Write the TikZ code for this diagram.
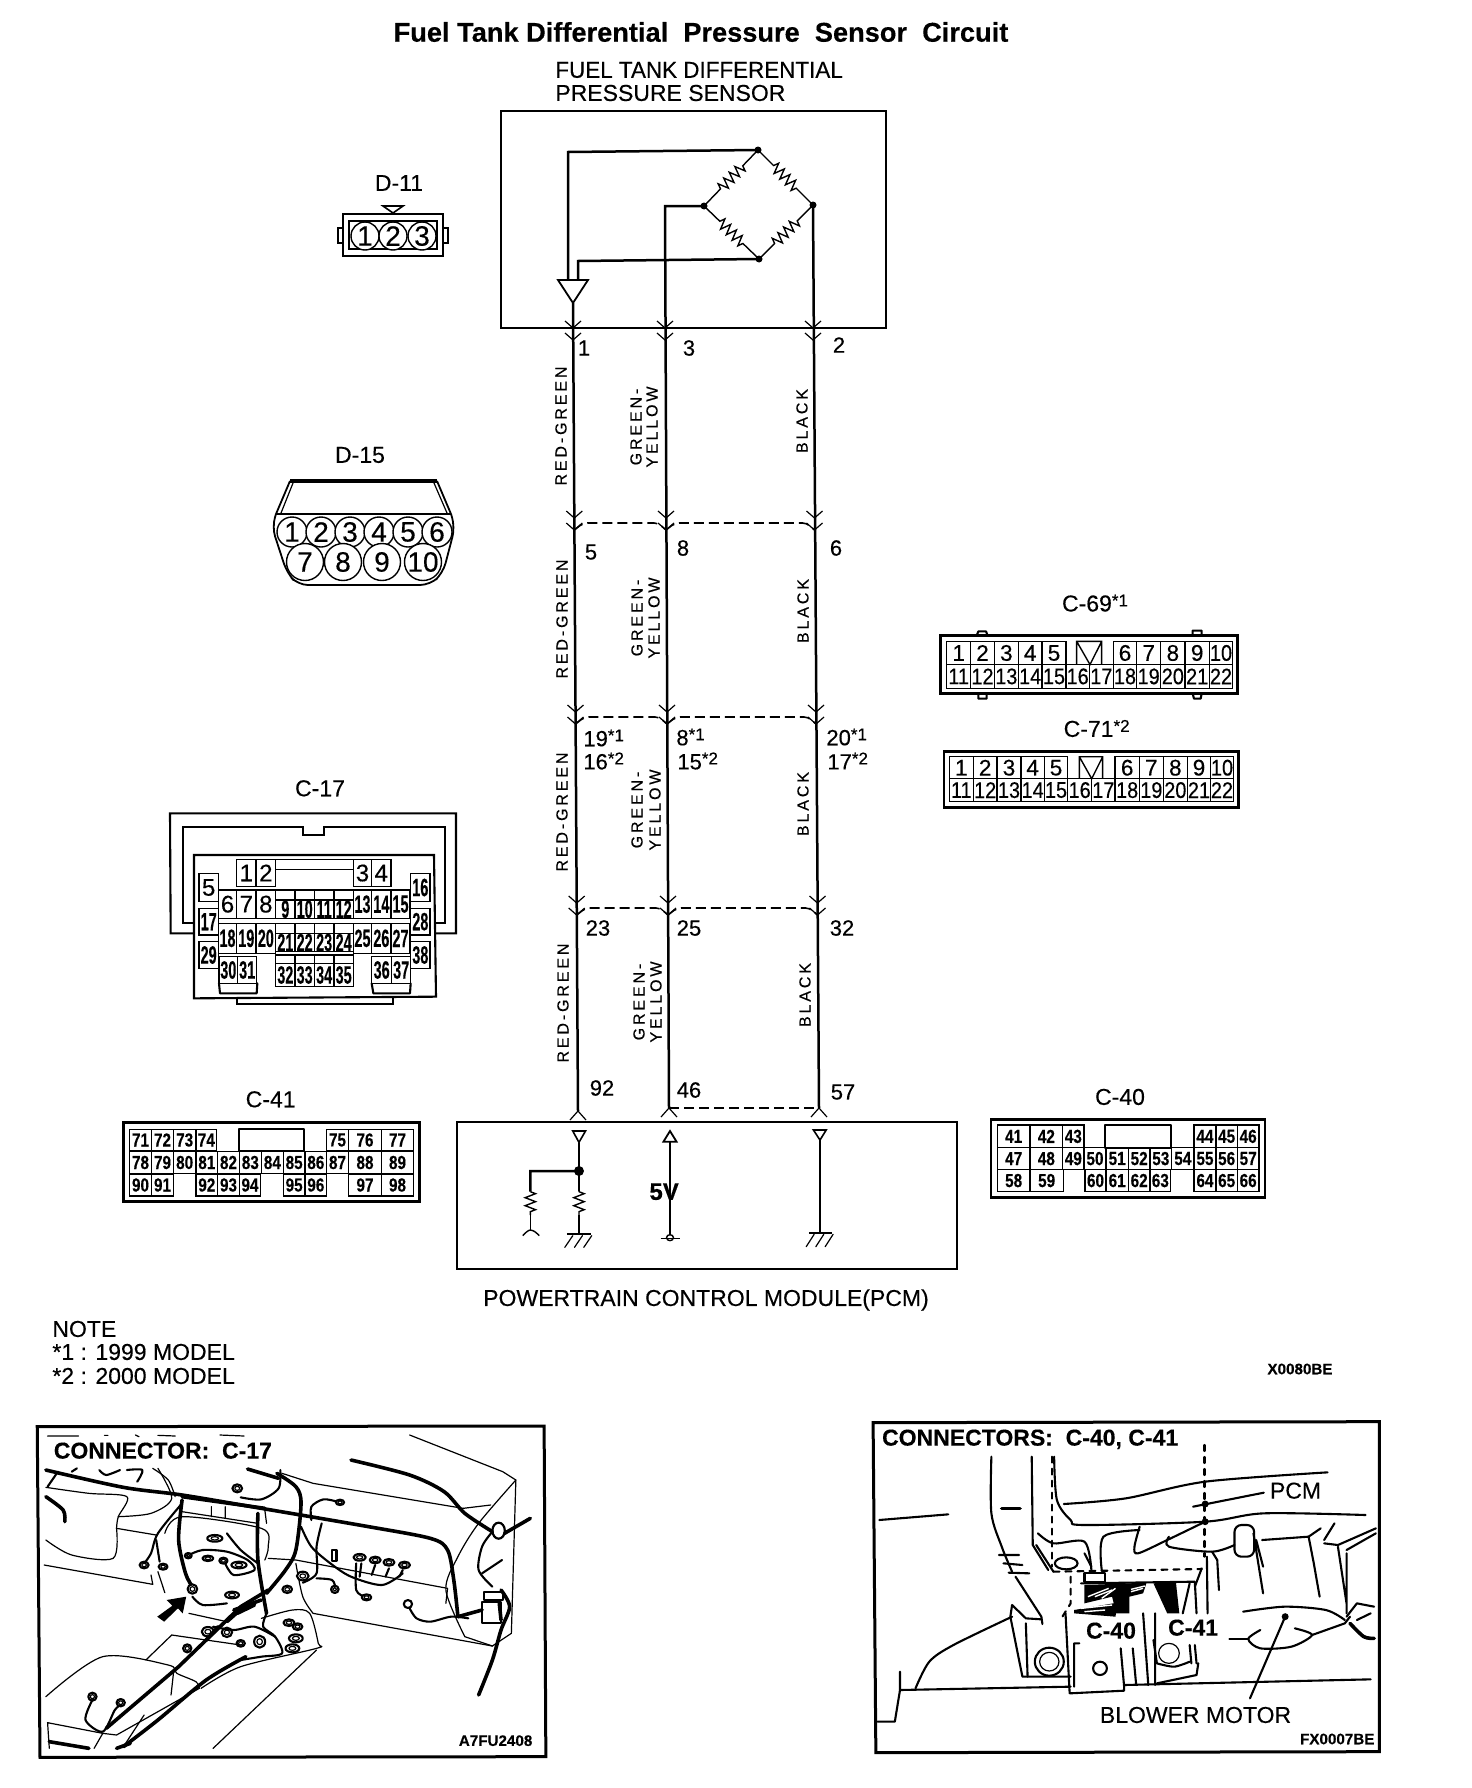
\documentclass[tikz,border=0pt]{standalone}
\usepackage{fontspec}
\setmainfont{Liberation Sans}[FakeBold=0.3]
\newfontfamily\spaced[LetterSpace=18,FakeBold=0.3]{Liberation Sans}
\usetikzlibrary{calc,decorations.pathmorphing}
\newcommand\fs[1]{\fontsize{#1}{#1}\selectfont}
\newcommand\supr[1]{\raisebox{2.5pt}{\fs{8.5}#1}}
\newcommand\cpx{x}
\newcommand\cfmt[1]{#1}
\newcommand\cl[5]{\draw[cellb] (#1,#2) rectangle (#3,#4);
  \node[celltxt] (\cpx-#5) at ($(#1,#2)!.5!(#3,#4)$) {\cfmt{#5}};}
\newcommand\crow[3]{\foreach \a/\b/\t in {#3} {\cl{\a}{#1}{\b}{#2}{\t}}}
\newcommand\vmk[2]{\draw[pinmk] ([shift={(-8,#2-7)}]#1) -- ([shift={(0,#2)}]#1) -- ([shift={(8,#2-7)}]#1);}
\newcommand\ivmk[1]{\draw[pinmk] ([shift={(-8,9)}]#1) -- (#1) -- ([shift={(8,9)}]#1);}
\newcommand\dlink[2]{\draw[dashline] ([shift={(0,7)}]#1) -- ([shift={(9,0)}]#1) -- ([shift={(-8,0)}]#2) -- ([shift={(0,7)}]#2);}
\newcommand\wlab[4]{\node[wirelab] (#1) at (#2,#3) {#4};}
\tikzset{
  wire/.style={line width=1.25pt},
  thinl/.style={line width=.6pt,line cap=round,line join=round},
  med/.style={line width=1.05pt,line cap=round,line join=round},
  thk/.style={line width=1.8pt,line cap=round,line join=round},
  box/.style={line width=1.05pt},
  cellb/.style={line width=.7pt},
  celltxt/.style={inner sep=0pt,font=\fs{10}},
  pinmk/.style={line width=.6pt},
  dashline/.style={line width=.8pt,dash pattern=on 5pt off 2.5pt,rounded corners=2pt},
  tag/.style={inner sep=0pt,font=\fs{11}},
  captxt/.style={inner sep=0pt,font=\fs{11.5}},
  wirelab/.style={inner sep=0pt,rotate=90,font=\fs{8}\spaced},
  insetb/.style={inner sep=0pt,font=\bfseries\fs{11.5}},
  codeb/.style={inner sep=0pt,font=\bfseries\fs{7.6}},
  resis/.style={line width=.7pt,decorate,decoration={zigzag,amplitude=2.6pt,segment length=4pt,pre length=#1,post length=#1}},
  resis/.default=10pt,
  dot/.style={fill=black,inner sep=0pt,minimum size=3.5pt,circle}
}
\begin{document}
\begin{tikzpicture}[x=0.5pt,y=-0.5pt]
\useasboundingbox (0,0) rectangle (1472,1788);
\fill[white] (0,0) rectangle (1472,1788);

% titles
\node[inner sep=0pt,font=\bfseries\fs{13.6}] (title) at (701,32) {Fuel Tank Differential\ \ Pressure\ \ Sensor\ \ Circuit};
\node[captxt,anchor=west] (sn1) at (555,70) {\scalebox{.975}[1]{FUEL TANK DIFFERENTIAL}};
\node[captxt,anchor=west] (sn2) at (555,93) {PRESSURE SENSOR};

% sensor box
\draw[box] (501,111) rectangle (886,328);
\coordinate (tip) at (573,303);
\coordinate (tl) at (558,280);
\coordinate (tr) at (588,280);
\coordinate (bt) at (758,150);
\coordinate (bl) at (704,206);
\coordinate (br) at (813,205);
\coordinate (bb) at (759,259);
\coordinate (e1) at (578,1111);
\coordinate (e3) at (669,1108);
\coordinate (e2) at (819,1108);
\draw[line width=.9pt] (tl) -- (tr) -- (tip) -- cycle;
\draw[wire] (568,280) -- (568,152) -- (bt);
\draw[wire] (578,280) -- (578,261) -- (bb);
\draw[resis=11pt] (bt) -- (bl);
\draw[resis=11pt] (bt) -- (br);
\draw[resis=11pt] (bl) -- (bb);
\draw[resis=11pt] (bb) -- (br);
\node[dot] at (bt) {}; \node[dot] at (bl) {}; \node[dot] at (br) {}; \node[dot] at (bb) {};
% wires
\draw[wire] (tip) -- (e1);
\draw[wire] (bl) -- (665,206) -- (e3);
\draw[wire] (br) -- (e2);
% junctions
\coordinate (p1) at (573,328); \coordinate (p3) at (665,328); \coordinate (p2) at (813,328);
\coordinate (a1) at (574.3,523); \coordinate (a3) at (666,523); \coordinate (a2) at (814.5,523);
\coordinate (b1) at (575.5,717); \coordinate (b3) at (667,717); \coordinate (b2) at (816,717);
\coordinate (c1) at (576.7,908); \coordinate (c3) at (668,908); \coordinate (c2) at (817.5,908);
\foreach \n in {p1,p3,p2} {\vmk{\n}{0}\vmk{\n}{12}}
\foreach \n in {a1,a3,a2,b1,b3,b2,c1,c3,c2} {\vmk{\n}{-5}\vmk{\n}{7}}
\dlink{a1}{a3}\dlink{a3}{a2}
\dlink{b1}{b3}\dlink{b3}{b2}
\dlink{c1}{c3}\dlink{c3}{c2}
\draw[dashline] (e3) -- (e2);
\ivmk{e1}\ivmk{e3}\ivmk{e2}

% pin labels
\node[tag] (n1) at (584,348) {1}; \node[tag] (n3) at (689,348) {3}; \node[tag] (n2) at (839,345) {2};
\node[tag] (n5) at (591,552) {5}; \node[tag] (n8) at (683,548) {8}; \node[tag] (n6) at (836,548) {6};
\node[tag,anchor=west] (n19) at (583,738) {19\supr{*1}};
\node[tag,anchor=west] (n16) at (583,761) {16\supr{*2}};
\node[tag,anchor=west] (n8b) at (676,737) {8\supr{*1}};
\node[tag,anchor=west] (n15) at (677,761) {15\supr{*2}};
\node[tag,anchor=west] (n20) at (826,737) {20\supr{*1}};
\node[tag,anchor=west] (n17) at (827,761) {17\supr{*2}};
\node[tag] (n23) at (598,928) {23}; \node[tag] (n25) at (689,928) {25}; \node[tag] (n32) at (842,928) {32};
\node[tag] (n92) at (602,1088) {92}; \node[tag] (n46) at (689,1090) {46}; \node[tag] (n57) at (843,1092) {57};

% wire colour labels
\wlab{rg1}{561}{426}{RED-GREEN}\wlab{rg2}{562}{619}{RED-GREEN}\wlab{rg3}{562}{812}{RED-GREEN}\wlab{rg4}{563}{1003}{RED-GREEN}
\wlab{gy1a}{636}{427}{GREEN-}\wlab{gy1b}{652}{427}{YELLOW}
\wlab{gy2a}{637}{618}{GREEN-}\wlab{gy2b}{654}{618}{YELLOW}
\wlab{gy3a}{637}{810}{GREEN-}\wlab{gy3b}{655}{810}{YELLOW}
\wlab{gy4a}{639}{1002}{GREEN-}\wlab{gy4b}{656}{1002}{YELLOW}
\wlab{bk1}{802}{421}{BLACK}\wlab{bk2}{803}{611}{BLACK}\wlab{bk3}{803}{804}{BLACK}\wlab{bk4}{805}{995}{BLACK}

% PCM box
\draw[box] (457,1122) rectangle (957,1269);
\node[captxt] (pcm) at (706,1300) {POWERTRAIN CONTROL MODULE(PCM)};
\begin{scope}[shift={(440,1060)},xscale=1/2.9,yscale=1/3]
  \coordinate (j) at (403,333);
  \draw[line width=.8pt] (385,213) -- (422,213) -- (403,247) -- cycle;
  \draw[line width=.9pt] (403,247) -- (j);
  \draw[wire] (j) -- (262,333) -- (262,395);
  \node[dot,minimum size=5pt] at (j) {};
  \draw[line width=.9pt] (j) -- (403,395);
  \draw[resis=0pt] (403,395) -- (403,465);
  \draw[line width=.9pt] (403,465) -- (403,522);
  \draw[resis=0pt] (262,395) -- (262,465);
  \draw[line width=.8pt] (262,465) -- (262,510);
  \draw[line width=.7pt] plot[smooth] coordinates {(240,527) (252,515) (262,510) (275,515) (288,527)};
  \draw[line width=1pt] (368,522) -- (438,522);
  \foreach \d in {0,28,55} {\draw[thinl] (385+\d,527) -- (362+\d,562);}
  \draw[line width=.9pt] (648,245) -- (686,245) -- (667,213) -- cycle;
  \draw[line width=1.1pt] (667,245) -- (667,522);
  \draw[line width=.7pt] (667,533) circle [x radius=10,y radius=9];
  \draw[line width=.8pt] (640,535) -- (695,535);
  \node[tag,font=\bfseries\fs{12}] (fv) at (650,395) {5V};
  \draw[line width=.8pt] (1083,210) -- (1120,210) -- (1102,240) -- cycle;
  \draw[line width=.9pt] (1102,240) -- (1102,518);
  \draw[line width=1pt] (1070,518) -- (1138,518);
  \foreach \d in {0,28,55} {\draw[thinl] (1085+\d,523) -- (1062+\d,560);}
\end{scope}

% D-11
\node[tag,font=\fs{11.5}] (d11) at (399,183) {D-11};
\draw[line width=.8pt] (383,206) -- (403,206) -- (393,213) -- cycle;
\draw[box] (343,214) rectangle (443,256);
\draw[line width=.7pt] (349,221) rectangle (437,249);
\draw[box] (343,228) -- (338,228) -- (338,243) -- (343,243);
\draw[box] (443,228) -- (448,228) -- (448,243) -- (443,243);
\foreach \x/\t in {365/1,393/2,422/3} {\node[circle,draw,line width=.7pt,fill=white,minimum size=14pt,inner sep=0pt,font=\fs{14}] (d11-\t) at (\x,236) {\t};}

% D-15
\node[tag,font=\fs{11.5}] (d15) at (360,455) {D-15};
\draw[line width=1.8pt] (290,481) -- (437,481);
\draw[line width=.9pt] (290,481) -- (276,514);
\draw[line width=.9pt] (437,481) -- (451,514);
\draw[line width=.6pt] (293,483) -- (281,513); \draw[line width=.6pt] (434,483) -- (447,513);
\draw[line width=1.1pt] (276,514) -- (451,514);
\draw[line width=.9pt,rounded corners=5pt] (276,514) -- (272,527) -- (287,573) -- (298,585) -- (430,585) -- (443,573) -- (455,527) -- (451,514);
\foreach \x/\t in {292/1,321/2,350/3,379/4,408/5,437/6} {\node[circle,draw,line width=.7pt,fill=white,minimum size=15pt,inner sep=0pt,font=\fs{14}] (d15-\t) at (\x,532) {\t};}
\foreach \x/\t in {305/7,343/8,382/9,423/10} {\node[circle,draw,line width=.7pt,fill=white,minimum size=18.5pt,inner sep=0pt,font=\fs{14}] (d15-\t) at (\x,562) {\t};}

% C-17
\begin{scope}[shift={(120,780)},xscale=1/3,yscale=1/3]
  \renewcommand\cpx{c17}
  \node[tag,font=\fs{11.5}] (c17) at (600,25) {C-17};
  \draw[box] (222,460) -- (152,460) -- (150,100) -- (1008,100) -- (1008,460) -- (945,460);
  \draw[box] (222,430) -- (190,430) -- (190,142) -- (548,142) -- (548,165) -- (612,165) -- (612,142) -- (975,142) -- (975,430) -- (945,430);
  \draw[box] (222,225) -- (942,225) -- (948,650) -- (222,655) -- cycle;
  \draw[box] (350,655) -- (350,672) -- (820,672) -- (820,655);
  \draw[med] (297,610) -- (300,640) -- (410,640) -- (412,610);
  \draw[med] (755,610) -- (760,640) -- (870,640) -- (872,610);
  \draw[cellb] (467,238) -- (700,238) (467,268) -- (700,268) (467,330) -- (700,330);
  \renewcommand\cfmt[1]{\fs{12}#1}
  \crow{238}{320}{350/408/1,408/467/2,700/755/3,755/813/4}
  \cl{237}{280}{295}{365}{5}
  \crow{330}{415}{295/350/6,350/408/7,408/467/8}
  \renewcommand\cfmt[1]{\scalebox{.72}[1.25]{\fs{10}\bfseries #1}}
  \crow{360}{415}{467/525/9,525/583/10,583/642/11,642/700/12}
  \crow{330}{415}{700/755/13,755/813/14,813/870/15}
  \cl{872}{280}{930}{365}{16}
  \cl{237}{385}{295}{465}{17}
  \cl{872}{385}{930}{465}{28}
  \crow{430}{520}{295/350/18,350/408/19,408/467/20,700/755/25,755/813/26,813/870/27}
  \crow{460}{515}{467/525/21,525/583/22,583/642/23,642/700/24}
  \cl{237}{485}{295}{565}{29}
  \cl{872}{485}{930}{565}{38}
  \crow{530}{610}{297/353/30,353/410/31,755/815/36,815/872/37}
  \crow{550}{620}{467/525/32,525/583/33,583/642/34,642/700/35}
  \draw[cellb] (467,360) -- (467,330) (525,360) -- (525,330) (583,360) -- (583,330) (642,360) -- (642,330) (700,360) -- (700,330);
  \draw[cellb] (467,460) -- (467,430) -- (700,430) -- (700,460) (525,460) -- (525,430) (583,460) -- (583,430) (642,460) -- (642,430);
  \draw[cellb] (467,550) -- (467,525) -- (700,525) -- (700,550) (525,550) -- (525,525) (583,550) -- (583,525) (642,550) -- (642,525);
\end{scope}

% C-41
\begin{scope}[shift={(120,780)},xscale=1/3,yscale=1/3]
  \renewcommand\cpx{c41}
  \renewcommand\cfmt[1]{\scalebox{.85}[1.05]{\fs{9}\bfseries #1}}
  \node[tag,font=\fs{11.5}] (c41) at (452,958) {C-41};
  \draw[line width=1.3pt] (10,1028) rectangle (898,1265);
  \draw[med] (357,1048) rectangle (552,1112);
  \crow{1048}{1112}{28/95/71,95/160/72,160/228/73,228/290/74,620/685/75,685/785/76,785/880/77}
  \crow{1115}{1180}{28/95/78,95/160/79,160/228/80,228/293/81,293/358/82,358/424/83,424/490/84,490/555/85,555/620/86,620/685/87,685/785/88,785/880/89}
  \crow{1182}{1248}{28/95/90,95/160/91,228/293/92,293/358/93,358/422/94,490/555/95,555/620/96,685/785/97,785/880/98}
\end{scope}

% C-69 C-71 C-40
\begin{scope}[shift={(920,570)},xscale=1/3,yscale=1/2.41]
  \renewcommand\cpx{c69}
  \newcommand\cone[1]{\fs{11.3}#1}
  \newcommand\ctwo[1]{\scalebox{.88}[1]{\fs{11.3}#1}}
  \renewcommand\cfmt[1]{\cone{#1}}
  \node[tag,font=\fs{11.5}] (c69) at (525,80) {C-69\supr{*1}};
  \draw[line width=1.3pt] (62,158) rectangle (952,298);
  \draw[med] (170,158) -- (175,148) -- (198,148) -- (203,158) (818,158) -- (818,146) -- (845,146) -- (845,158);
  \draw[med] (175,298) -- (175,310) -- (200,310) -- (200,298) (818,298) -- (822,310) -- (842,310) -- (845,298);
  \crow{172}{228}{80/152/1,152/223/2,223/295/3,295/366/4,366/438/5,580/650/6,650/722/7,722/795/8,795/868/9}
  \renewcommand\cfmt[1]{\ctwo{#1}}
  \crow{172}{228}{868/938/10}
  \crow{228}{285}{80/152/11,152/223/12,223/295/13,295/366/14,366/438/15,438/508/16,508/580/17,580/650/18,650/722/19,722/795/20,795/868/21,868/938/22}
  \draw[cellb] (470,228) -- (470,172) -- (545,172) -- (545,228) (470,172) -- (510,228) -- (545,172);
  \renewcommand\cpx{c71}
  \renewcommand\cfmt[1]{\cone{#1}}
  \node[tag,font=\fs{11.5}] (c71) at (530,382) {C-71\supr{*2}};
  \draw[line width=1.3pt] (72,437) rectangle (955,572);
  \crow{450}{503}{88/160/1,160/231/2,231/303/3,303/373/4,373/443/5,585/658/6,658/730/7,730/802/8,802/872/9}
  \renewcommand\cfmt[1]{\ctwo{#1}}
  \crow{450}{503}{872/940/10}
  \crow{503}{558}{88/160/11,160/231/12,231/303/13,303/373/14,373/443/15,443/515/16,515/585/17,585/658/18,658/730/19,730/802/20,802/872/21,872/940/22}
  \draw[cellb] (478,503) -- (478,450) -- (548,450) -- (548,503) (478,450) -- (515,503) -- (548,450);
  \renewcommand\cpx{c40}
  \renewcommand\cfmt[1]{\scalebox{.85}[1.05]{\fs{9}\bfseries #1}}
  \node[tag,font=\fs{11.5}] (c40) at (600,1270) {C-40};
  \draw[line width=1.3pt] (213,1325) rectangle (1035,1512);
  \draw[med] (555,1338) rectangle (752,1392);
  \crow{1338}{1392}{232/330/41,330/428/42,428/492/43,822/888/44,888/952/45,952/1017/46}
  \crow{1392}{1445}{232/330/47,330/428/48,428/492/49,492/558/50,558/625/51,625/690/52,690/755/53,755/822/54,822/888/55,888/952/56,952/1017/57}
  \crow{1445}{1498}{232/330/58,330/430/59,495/558/60,558/625/61,625/690/62,690/752/63,822/888/64,888/952/65,952/1017/66}
\end{scope}

% notes
\node[captxt,anchor=west] (note) at (52,1329) {NOTE};
\node[captxt,anchor=west] (nt1) at (52,1352) {*1 : 1999 MODEL};
\node[captxt,anchor=west] (nt2) at (52,1376) {*2 : 2000 MODEL};
\node[codeb] (xc) at (1300,1369) {X0080BE};

% Inset C-17
\begin{scope}[shift={(20,1400)},xscale=1/2.9,yscale=1/3]
  \draw[line width=1.5pt] (50,80) -- (1520,78) -- (1525,1070) -- (58,1072) -- cycle;
  \node[insetb,anchor=west] (i1t) at (97,152) {CONNECTOR:\ \ C-17};
  \node[codeb,anchor=east] (i1c) at (1487,1022) {A7FU2408};
  % small top fragments
  \draw[thinl] (80,108) -- (170,108) (580,105) -- (650,108) (400,106) -- (450,108) (245,106) -- (255,106) (335,105) -- (345,110);
  % main harness
  \draw[thk] plot[smooth] coordinates {(75,210) (300,262) (470,285) (700,325) (1000,378) (1190,415) (1240,450) (1258,540) (1270,650)};
  \draw[thk] plot[smooth] coordinates {(960,180) (1130,225) (1230,275) (1290,340) (1370,395)};
  \draw[line width=1.1pt] (1388,392) circle [x radius=18,y radius=24];
  \draw[thk] (1405,400) -- (1480,355);
  \draw[med] plot[smooth] coordinates {(1370,395) (1340,440) (1330,510) (1370,560)};
  \draw[med] (1340,520) -- (1398,480);
  \draw[thk] plot[smooth] coordinates {(1395,570) (1420,620) (1395,690) (1370,780) (1330,885)};
  \draw[med] (1340,605) rectangle (1395,670);
  \draw[med] (1345,575) rectangle (1400,600);
  \draw[thk] (1390,610) -- (1395,660);
  \draw[thk] (1270,650) -- (1340,630);
  \draw[med] (1125,612) circle [x radius=12,y radius=12];
  \draw[med] plot[smooth] coordinates {(1130,625) (1150,655) (1190,665) (1250,650) (1300,655)};
  % thin outlines right
  \draw[thinl] (1130,105) -- (1400,215) -- (1438,240) -- (1425,700) -- (1370,738) -- (850,640);
  \draw[thinl] plot[smooth] coordinates {(1438,240) (1330,370) (1270,470) (1235,570) (1290,710)};
  \draw[thinl] (1285,325) -- (1365,315);
  \draw[thinl] (760,220) -- (850,250) -- (1285,325);
  \draw[thinl] (720,475) -- (800,480) -- (1240,565) -- (1235,610);
  \draw[thinl] (1290,710) -- (1370,738);
  % left dash area
  \draw[thinl] plot[smooth] coordinates {(75,420) (150,465) (270,475) (280,385)};
  \draw[thinl] (280,385) -- (395,405);
  \draw[thinl] plot[smooth] coordinates {(75,262) (200,280) (310,290) (285,350) (280,385)};
  \draw[thinl] plot[smooth] coordinates {(285,350) (380,340) (440,295) (400,205)};
  \draw[thinl] plot[smooth] coordinates {(385,205) (430,240) (450,290)};
  \draw[thinl] (70,495) -- (385,553) -- (380,525);
  \draw[thinl] (400,515) -- (420,578);
  \draw[thinl] plot[smooth] coordinates {(420,400) (470,350) (700,385) (720,440) (710,480)};
  \draw[thinl] (470,335) -- (690,370) (555,320) -- (555,350) (595,320) -- (595,355) (710,330) -- (715,370);
  \draw[thinl] (490,640) -- (600,665);
  \draw[thinl] plot[smooth] coordinates {(800,490) (820,590) (850,640)};
  \draw[thk] plot[smooth] coordinates {(130,365) (125,330) (75,290)};
  \draw[med] (80,260) -- (110,215);
  \draw[med] plot[smooth] coordinates {(230,210) (250,225) (290,210)};
  \draw[med] plot[smooth] coordinates {(310,210) (355,210) (340,245)};
  \draw[med] (150,215) -- (165,205);
  % central harness
  \draw[thk] plot[smooth] coordinates {(470,300) (460,420) (480,520) (500,560)};
  \draw[med] plot[smooth] coordinates {(500,590) (530,615) (600,610)};
  \draw[med] plot[smooth] coordinates {(470,310) (400,400) (380,460) (360,490)};
  \draw[med] (395,420) -- (405,485);
  \draw[thk] plot[smooth] coordinates {(690,340) (690,480) (715,640)};
  \draw[med] plot[smooth] coordinates {(600,400) (640,450) (690,490)};
  \draw[med] plot[smooth] coordinates {(490,465) (530,450) (600,455) (660,480) (680,510) (620,525) (595,490)};
  \draw[thk] (660,207) -- (750,235);
  \draw[thk] plot[smooth] coordinates {(745,220) (800,260) (815,310) (800,450) (770,510) (715,580)};
  \draw[med] plot[smooth] coordinates {(755,210) (750,265) (700,298) (640,292)};
  \draw[thk] (470,290) -- (710,325);
  \draw[med] plot[smooth] coordinates {(845,360) (845,320) (880,298) (920,305)};
  \draw[med] plot[smooth] coordinates {(875,370) (860,440) (860,520) (820,548)};
  \draw[med] plot[smooth] coordinates {(815,380) (845,440) (900,490) (960,530) (1050,555) (1110,520)};
  \draw[med] plot[smooth] coordinates {(975,490) (975,570) (1000,590)};
  \draw[med] plot[smooth] coordinates {(860,535) (905,540) (915,565)};
  \draw[med] (990,490) -- (985,530) (1030,495) -- (1020,525) (1070,505) -- (1060,530) (1110,510) -- (1100,530);
  % small connectors
  \foreach \x/\y/\w/\h in {565/415/22/10, 545/475/16/8, 590/482/12/9, 635/495/22/10, 488/467/10/8, 360/495/13/10, 415/500/13/9, 630/265/14/12, 928/307/12/8, 820/528/17/13, 775/568/14/11, 913/568/11/11, 1005/592/14/9, 985/472/18/10, 1030/480/16/10, 1070/487/16/10, 1115/495/16/10, 500/567/14/14, 615/585/20/10, 545/695/18/14, 600/697/15/14, 640/730/12/10, 695/725/16/18, 780/668/16/10, 805/680/14/10, 800/715/20/12, 790/745/20/12, 485/745/12/12, 210/890/12/12, 292/908/12/11} {
    \filldraw[med,fill=white] (\x,\y) circle [x radius=\w,y radius=\h];
    \draw[thinl] (\x,\y) circle [x radius=\w/2,y radius=\h/2];}
  \draw[med] (905,450) rectangle (918,482);
  % arrow
  \fill (482,590) -- (425,600) -- (442,617) -- (398,650) -- (418,665) -- (458,625) -- (472,640) -- cycle;
  % console
  \draw[thk] (720,570) -- (640,620) -- (460,800) -- (250,985);
  \draw[thinl] (240,1000) -- (215,1045);
  \draw[thk] plot[smooth] coordinates {(655,770) (540,840) (400,960) (300,1040)};
  \draw[thk] (280,1045) -- (320,1030);
  \draw[thinl] (440,705) -- (365,780);
  \draw[thinl] (440,705) -- (640,735);
  \draw[thinl] plot[smooth] coordinates {(75,890) (240,770) (430,795) (455,820) (510,845) (520,865)};
  \draw[thinl] (520,865) -- (280,1005) -- (240,1000) -- (80,968) -- (85,1045);
  \draw[thk] (85,1025) -- (200,1045);
  \draw[thinl] plot[smooth] coordinates {(525,865) (640,800) (860,745) (865,730) (840,640) (790,630) (700,655)};
  \draw[thinl] (860,750) -- (560,1045);
  \draw[thinl] (445,820) -- (438,885);
  \draw[thinl] (300,1040) -- (360,945);
  \draw[med] plot[smooth] coordinates {(210,900) (190,960) (240,995) (275,930) (292,915)};
  \draw[med] plot[smooth] coordinates {(715,640) (705,680) (740,710) (760,760) (700,770) (640,780)};
  \draw[med] plot[smooth] coordinates {(560,680) (620,690) (680,680) (740,710)};
  \draw[thk] (620,630) -- (700,600) (630,640) -- (680,615) (600,665) -- (660,610);
  \draw[thk] (540,720) -- (575,680);
\end{scope}

% Inset C-40, C-41
\begin{scope}[shift={(850,1400)},xscale=1/2.9,yscale=1/3]
  \draw[line width=1.5pt] (67,68) -- (1535,65) -- (1535,1055) -- (75,1058) -- cycle;
  \node[insetb,anchor=west] (i2t) at (92,118) {CONNECTORS:\ \ C-40, C-41};
  \node[captxt] (ipcm) at (1292,272) {PCM};
  \node[insetb] (i40) at (757,692) {C-40};
  \node[insetb] (i41) at (995,683) {C-41};
  \node[captxt] (iblow) at (1002,945) {BLOWER MOTOR};
  \node[codeb,anchor=east] (i2c) at (1522,1017) {FX0007BE};
  \draw[med] (85,360) -- (285,343);
  \draw[med] plot[smooth] coordinates {(410,170) (410,340) (440,440) (470,515)};
  \draw[med] (480,530) -- (555,650) -- (558,672);
  \draw[thk] (440,325) -- (493,325);
  \draw[med] (432,465) -- (490,465) (445,490) -- (500,495) (460,518) -- (520,520);
  \draw[med] (527,170) -- (530,435) -- (575,510);
  \draw[med,dashed] (585,170) -- (585,500);
  \draw[med] plot[smooth] coordinates {(592,170) (600,300) (640,360) (680,375) (1030,365) (1200,340) (1495,345)};
  \draw[med] plot[smooth] coordinates {(620,312) (800,295) (1030,245) (1385,217)};
  \draw[med,dashed] (1028,135) -- (1028,470);
  \draw[med] (1035,470) -- (1037,640);
  \draw[med] (995,320) -- (1200,278);
  \node[dot] at (1030,312) {}; \node[dot] at (1030,365) {};
  \draw[med] plot[smooth] coordinates {(545,400) (590,430) (680,425) (700,510)};
  \draw[med] (540,435) -- (590,515);
  \draw[med] (627,490) circle [x radius=33,y radius=18];
  \draw[med] (680,460) -- (700,500);
  \draw[med] plot[smooth] coordinates {(730,510) (735,410) (840,390)};
  \draw[med] plot[smooth] coordinates {(840,380) (825,440) (835,460) (920,420) (1030,365)};
  \draw[med] plot[smooth] coordinates {(925,410) (925,440) (1050,455) (1115,435)};
  \draw[med] (1050,455) -- (1065,480) -- (1070,570);
  \draw[med,rounded corners=3.5pt] (1115,375) rectangle (1172,470);
  \draw[med] (1170,400) -- (1198,580) (1178,420) -- (1198,500);
  \draw[med] (1195,420) -- (1330,410) -- (1365,385);
  \draw[med] (1330,410) -- (1345,490) -- (1362,590);
  \draw[med] (1375,420) -- (1405,370);
  \draw[med] (1375,430) -- (1415,435) -- (1525,385);
  \draw[med] (1415,440) -- (1440,610) (1440,450) -- (1525,400) (1440,460) -- (1440,640);
  \draw[med,dashed] (590,515) -- (1020,507);
  \draw[med] (1020,505) -- (1000,560);
  \draw[med] (680,520) rectangle (740,545);
  \draw[med] (670,550) -- (1000,545) -- (1005,640);
  \draw[med] (985,550) -- (965,640);
  \fill (680,555) -- (860,548) -- (850,580) -- (810,590) -- (810,640) -- (772,640) -- (760,590) -- (680,610) -- cycle;
  \fill (880,550) -- (945,545) -- (955,640) -- (920,640) -- cycle;
  \fill (650,630) -- (775,608) -- (770,650) -- (650,640) -- cycle;
  \foreach \a/\b/\c/\d in {690/590/750/565,710/590/760/570,730/595/770/565,670/625/760/615,680/635/740/630,815/575/850/565,815/568/855/558} {\draw[white,line width=.7pt] (\a,\b) -- (\c,\d);}
  \draw[med,dashed] (640,530) -- (640,610) -- (610,660);
  \draw[med] (470,615) -- (465,650) -- (500,830) -- (640,830);
  \draw[med] (470,615) -- (510,655) -- (555,658);
  \draw[med] (510,670) -- (515,830);
  \draw[med] (578,785) circle [x radius=42,y radius=42];
  \draw[thinl] (578,785) circle [x radius=28,y radius=28];
  \draw[med] plot[smooth] coordinates {(470,650) (300,735) (230,785) (190,865)};
  \draw[med] (145,870) -- (640,860) (795,855) -- (1510,838);
  \draw[med] (145,815) -- (145,870) -- (130,965) -- (80,965);
  \draw[med] (625,640) -- (637,880) -- (795,872) -- (795,860);
  \draw[med] (650,860) -- (650,730) -- (665,730) (785,745) -- (795,860);
  \draw[med] (725,805) circle [x radius=20,y radius=20];
  \draw[med] (820,745) -- (830,855) (850,640) -- (865,855) (885,640) -- (885,855);
  \draw[med] (880,720) -- (890,790);
  \draw[med] plot[smooth] coordinates {(890,790) (940,800) (985,785)};
  \draw[med] (1010,790) -- (1005,825) -- (890,850);
  \draw[thinl] (925,760) circle [x radius=30,y radius=30];
  \draw[med] (985,735) -- (990,790) (1000,735) -- (1005,790);
  \draw[med] plot[smooth] coordinates {(1140,635) (1260,620) (1380,630) (1435,660)};
  \draw[med] (1100,717) -- (1155,717);
  \draw[med] plot[smooth] coordinates {(1190,690) (1155,717) (1190,745) (1280,740) (1340,705) (1290,685)};
  \node[dot] at (1262,650) {};
  \draw[med] (1262,650) -- (1160,895);
  \draw[med] (1340,705) -- (1435,670) -- (1450,650);
  \draw[med] (1440,650) -- (1470,610) -- (1520,620);
  \draw[thk] plot[smooth] coordinates {(1450,670) (1490,710) (1520,715)};
  \draw[med] (1470,660) -- (1510,640);
\end{scope}
\end{tikzpicture}
\end{document}
